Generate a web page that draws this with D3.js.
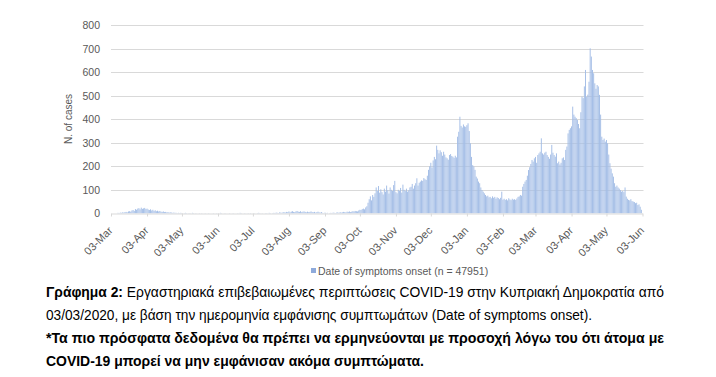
<!DOCTYPE html>
<html>
<head>
<meta charset="utf-8">
<script src="https://cdn.jsdelivr.net/npm/d3@7"></script>
<style>
  html, body { margin: 0; padding: 0; background: #fff; }
  svg { display: block; }
</style>
</head>
<body>
<svg id="chart" width="716" height="377"></svg>
<script>
// ---- Data: daily cases by date of symptoms onset ----
const startDate = "2020-03-03";
const mar2020 = [0,0,0,0,0,0,2,1,3,2,4,3,5,6,4,8,9,7,12,14,10,18,15,20,22,17,24,19,21];
const apr2020 = [23,18,20,16,14,17,12,15,10,13,9,11,8,10,7,6,8,5,6,4,5,3,4,3,2,3,2,2,1,2];
const may2020 = [1,2,1,0,1,2,1,0,1,1,0,2,1,0,1,0,0,1,0,1,0,0,1,0,0,1,0,0,0,1,0];
const jun2020 = [0,1,0,0,2,1,0,0,1,0,0,0,1,0,0,1,0,0,0,1,0,2,1,0,0,1,0,0,1,0];
const jul2020 = [1,0,0,1,0,0,1,2,1,0,1,0,0,1,1,0,2,1,0,1,2,1,3,2,1,4,3,2,5,4,3];
const aug2020 = [6,5,8,4,7,9,6,5,8,10,7,6,9,5,7,8,6,4,7,5,6,8,5,4,6,3,5,7,4,3,5];
const sep2020 = [2,1,3,1,2,0,1,2,1,3,2,1,3,4,2,5,3,4,6,5,4,7,6,8,5,7,9,8,10,9];
const oct2020 = [8,12,15,14,18,20,17,25,30,45,60,72,55,78,70,85,110,95,116,88,102,90,80,105,92,118,98,84,110,100,95];
const nov2020 = [120,138,90,85,100,95,108,88,122,100,95,105,92,98,110,113,125,105,118,128,149,118,130,135,140,138,150,145,142,160];
const dec2020 = [185,200,215,195,225,240,230,288,270,255,268,260,245,262,250,238,234,228,248,252,244,241,236,245,238,326,347,411,372,365,378];
const jan2021 = [370,368,375,383,350,298,240,205,199,185,156,148,135,128,110,99,92,85,78,72,75,68,70,64,72,66,70,62,68,65,60];
const feb2021 = [66,92,58,62,57,60,55,64,59,56,62,58,60,57,63,70,72,78,75,113,125,135,142,160,184,196,210,227];
const mar2021 = [220,234,240,215,248,255,262,319,255,250,258,262,248,240,232,250,291,258,248,241,255,213,220,208,215,234,238,227,270,284,340];
const apr2021 = [355,362,370,454,420,411,405,397,380,362,430,496,490,540,610,496,505,560,702,667,610,596,553,530,546,540,504,420,326,312];
const may2021 = [318,305,312,298,250,213,190,170,156,128,113,118,110,105,99,92,95,90,110,71,62,57,55,60,52,50,48,43,45,35,38];
const jun2021 = [28,15];

const tickLabels = ["03-Mar","03-Apr","03-May","03-Jun","03-Jul","03-Aug","03-Sep","03-Oct",
                    "03-Nov","03-Dec","03-Jan","03-Feb","03-Mar","03-Apr","03-May","03-Jun"];
const yTicks = [0,100,200,300,400,500,600,700,800];
const seriesName = "Date of symptoms onset (n = 47951)";
const yTitle = "N. of cases";
const captionLines = [
  {bold: "Γράφημα 2:", text: " Εργαστηριακά επιβεβαιωμένες περιπτώσεις COVID-19 στην Κυπριακή Δημοκρατία από", width: 618},
  {bold: "", text: "03/03/2020, με βάση την ημερομηνία εμφάνισης συμπτωμάτων (Date of symptoms onset).", width: 546},
  {bold: "*Τα πιο πρόσφατα δεδομένα θα πρέπει να ερμηνεύονται με προσοχή λόγω του ότι άτομα με", text: "", width: 618},
  {bold: "COVID-19 μπορεί να μην εμφάνισαν ακόμα συμπτώματα.", text: "", width: 378}
];

// ---- Build table ----
const allValues = [].concat(mar2020, apr2020, may2020, jun2020, jul2020, aug2020, sep2020,
  oct2020, nov2020, dec2020, jan2021, feb2021, mar2021, apr2021, may2021, jun2021);
const t0 = new Date(startDate + "T00:00:00Z");
const data = allValues.map((v, i) => ({date: d3.utcDay.offset(t0, i), value: v}));
const tickDates = tickLabels.map((_, i) => d3.utcMonth.offset(t0, i));

// ---- Layout ----
const svg = d3.select("#chart");
const mLeft = 111, mRight = 642.5, mTop = 25.3, mBottom = 213.3;

const x = d3.scaleTime()
  .domain([t0, d3.utcMonth.offset(t0, 15)])
  .range([mLeft, mRight]);
const y = d3.scaleLinear().domain([0, 800]).range([mBottom, mTop]);

const gray = "#595959";
const fontChart = "'Liberation Sans', Arial, sans-serif";

// gridlines
svg.append("g").selectAll("line").data(yTicks.filter(d => d > 0)).join("line")
  .attr("x1", mLeft).attr("x2", mRight + 1)
  .attr("y1", d => Math.round(y(d)) + 0.5).attr("y2", d => Math.round(y(d)) + 0.5)
  .attr("stroke", "#d9d9d9").attr("stroke-width", 1);

// bars
const step = x(d3.utcDay.offset(t0, 1)) - x(t0);
const bw = step * 0.82;
svg.append("g").selectAll("rect").data(data).join("rect")
  .attr("x", d => x(d.date) - bw / 2)
  .attr("y", d => y(d.value))
  .attr("width", bw)
  .attr("height", d => mBottom - y(d.value))
  .attr("fill", "#a3bde6");

// x axis
const xAxis = svg.append("g")
  .attr("transform", `translate(0,${Math.round(mBottom) + 0.5})`)
  .call(d3.axisBottom(x).tickValues(tickDates).tickSize(3).tickSizeOuter(0)
    .tickFormat((d, i) => tickLabels[i]));
xAxis.select(".domain").attr("stroke", "#d9d9d9");
xAxis.selectAll(".tick line").attr("stroke", "#d9d9d9");
xAxis.selectAll(".tick text")
  .attr("font-family", fontChart).attr("font-size", 11).attr("fill", gray)
  .attr("text-anchor", "end")
  .attr("x", 0).attr("y", 0).attr("dy", "0.35em")
  .attr("transform", "translate(-1,15) rotate(-45)");

// y axis
const yAxis = svg.append("g")
  .attr("transform", `translate(${mLeft - 8},0)`)
  .call(d3.axisLeft(y).tickValues(yTicks).tickSize(0));
yAxis.select(".domain").remove();
yAxis.selectAll(".tick text")
  .attr("font-family", fontChart).attr("font-size", 10.5).attr("fill", gray);

// y title
svg.append("text")
  .attr("transform", `translate(72,119) rotate(-90)`)
  .attr("text-anchor", "middle")
  .attr("font-family", fontChart).attr("font-size", 10).attr("fill", gray)
  .text(yTitle);

// legend
svg.append("rect").attr("x", 311).attr("y", 268).attr("width", 5).attr("height", 5).attr("fill", "#8eaadb");
svg.append("text").attr("x", 318).attr("y", 274.5)
  .attr("font-family", fontChart).attr("font-size", 10.5).attr("fill", gray)
  .text(seriesName);

// caption
const capFont = "'Liberation Sans Narrow', 'Arial Narrow', 'Liberation Sans', Arial, sans-serif";
const baselines = [297, 320, 343, 366];
captionLines.forEach((ln, i) => {
  const t = svg.append("text")
    .attr("x", 46).attr("y", baselines[i])
    .attr("font-family", capFont).attr("font-size", 15).attr("fill", "#000")
    .attr("textLength", ln.width).attr("lengthAdjust", "spacingAndGlyphs");
  if (ln.bold) t.append("tspan").attr("font-weight", "bold").text(ln.bold);
  if (ln.text) t.append("tspan").text(ln.text);
});
</script>
</body>
</html>
